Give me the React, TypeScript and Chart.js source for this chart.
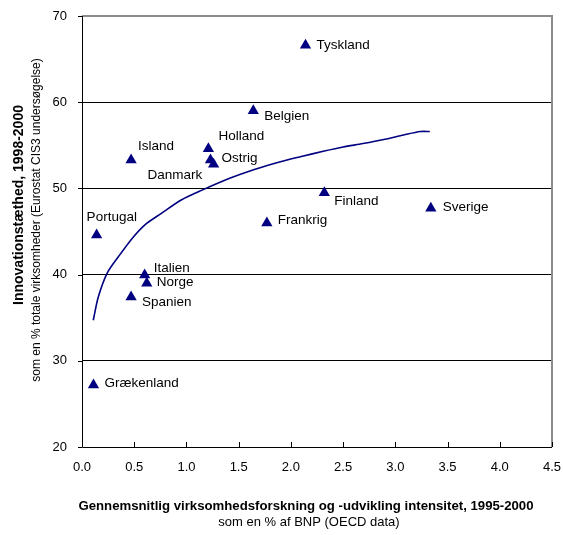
import React, { useEffect, useRef } from "react";
import { Chart, registerables } from "chart.js";

Chart.register(...registerables);

const countries = ["Tyskland", "Belgien", "Holland", "Ostrig", "Danmark", "Island", "Portugal", "Italien", "Norge", "Spanien", "Grækenland", "Frankrig", "Finland", "Sverige"];
const rdIntensity = [2.14, 1.64, 1.21, 1.23, 1.26, 0.47, 0.14, 0.6, 0.62, 0.47, 0.11, 1.77, 2.32, 3.34];
const innovation = [66.6, 59.0, 54.6, 53.3, 52.8, 53.3, 44.6, 39.95, 39.0, 37.4, 27.2, 46.0, 49.5, 47.7];
// label offsets in px (dx, dy) relative to the marker
const labelDx = [11, 11, 10, 11, -66, 7, -10, 9, 10, 11, 11, 11, 10, 12];
const labelDy = [0, 5, -12, -2, 11, -14, -18, -7, -1, 5, -2, -3, 9, -1];

const trendX = [0.108, 0.156, 0.24, 0.35, 0.48, 0.6, 0.76, 0.95, 1.15, 1.42, 1.65, 1.9, 2.1, 2.31, 2.5, 2.69, 2.9, 3.08, 3.24, 3.33];
const trendY = [34.7, 37.4, 40.15, 42.1, 44.2, 45.75, 47.1, 48.65, 49.8, 51.2, 52.2, 53.1, 53.7, 54.3, 54.8, 55.2, 55.7, 56.2, 56.6, 56.6];

const yTicks = [20, 30, 40, 50, 60, 70];
const xTicks = [0, 0.5, 1, 1.5, 2, 2.5, 3, 3.5, 4, 4.5];

const yTitle = "Innovationstæthed, 1998-2000";
const ySub = "som en % totale virksomheder (Eurostat CIS3 undersøgelse)";
const xTitle = "Gennemsnitlig virksomhedsforskning og -udvikling intensitet, 1995-2000";
const xSub = "som en % af BNP (OECD data)";

const FONT = "Arial, 'Liberation Sans', sans-serif";
const NAVY = "#000080";

const decorPlugin = {
  id: "decor",
  afterDatasetsDraw(chart: any) {
    const { ctx, chartArea: a, scales } = chart;
    const xs = scales.x;
    const ys = scales.y;
    ctx.save();
    // gray frame top/right
    ctx.strokeStyle = "#8c8c8c";
    ctx.lineWidth = 2;
    ctx.beginPath();
    ctx.moveTo(a.left, a.top);
    ctx.lineTo(a.right, a.top);
    ctx.lineTo(a.right, a.bottom);
    ctx.stroke();
    // black axes
    ctx.strokeStyle = "#000";
    ctx.lineWidth = 1;
    ctx.beginPath();
    ctx.moveTo(a.left + 0.5, a.top);
    ctx.lineTo(a.left + 0.5, a.bottom + 0.5);
    ctx.lineTo(a.right, a.bottom + 0.5);
    ctx.stroke();
    // x ticks (inward)
    ctx.beginPath();
    xTicks.forEach((v) => {
      const px = Math.round(xs.getPixelForValue(v)) + 0.5;
      ctx.moveTo(px, a.bottom);
      ctx.lineTo(px, a.bottom - 5);
    });
    // y ticks (outward)
    yTicks.forEach((v) => {
      const py = Math.round(ys.getPixelForValue(v)) + 0.5;
      ctx.moveTo(a.left, py);
      ctx.lineTo(a.left - 4, py);
    });
    ctx.stroke();
    // point labels
    ctx.fillStyle = "#000";
    ctx.font = `13.5px ${FONT}`;
    ctx.textAlign = "left";
    ctx.textBaseline = "middle";
    countries.forEach((c, i) => {
      const px = xs.getPixelForValue(rdIntensity[i]);
      const py = ys.getPixelForValue(innovation[i]);
      ctx.fillText(c, px + labelDx[i], py + labelDy[i]);
    });
    // axis titles
    ctx.textAlign = "center";
    ctx.font = `bold 13.2px ${FONT}`;
    ctx.fillText(xTitle, 306, 506);
    ctx.font = `13px ${FONT}`;
    ctx.fillText(xSub, 309, 522);
    ctx.save();
    ctx.translate(19, 205);
    ctx.rotate(-Math.PI / 2);
    ctx.font = `bold 14px ${FONT}`;
    ctx.fillText(yTitle, 0, 0);
    ctx.restore();
    ctx.save();
    ctx.translate(37, 220);
    ctx.rotate(-Math.PI / 2);
    ctx.font = `12px ${FONT}`;
    ctx.fillText(ySub, 0, 0);
    ctx.restore();
    ctx.restore();
  },
};

export default function App() {
  const ref = useRef<HTMLCanvasElement>(null);
  useEffect(() => {
    const canvas = ref.current;
    if (!canvas) return;
    const chart = new Chart(canvas, {
      type: "scatter",
      data: {
        datasets: [
          {
            type: "line",
            data: trendX.map((x, i) => ({ x, y: trendY[i] })),
            borderColor: NAVY,
            borderWidth: 1.6,
            pointRadius: 0,
            fill: false,
            tension: 0.3,
          } as any,
          {
            data: rdIntensity.map((x, i) => ({ x, y: innovation[i] })),
            pointStyle: "triangle",
            pointRadius: 6.5,
            backgroundColor: NAVY,
            borderColor: NAVY,
            borderWidth: 0,
          },
        ],
      },
      options: {
        animation: false,
        responsive: false,
        maintainAspectRatio: false,
        layout: { padding: { top: 16, right: 11, left: 0, bottom: 0 } },
        plugins: { legend: { display: false }, tooltip: { enabled: false } },
        scales: {
          x: {
            type: "linear",
            min: 0,
            max: 4.5,
            afterFit: (s: any) => {
              s.height = 88;
              s.paddingLeft = 0;
              s.paddingRight = 0;
            },
            afterBuildTicks: (s: any) => {
              s.ticks = xTicks.map((v) => ({ value: v }));
            },
            grid: { display: false, drawTicks: false },
            border: { display: false },
            ticks: {
              padding: 13,
              color: "#000",
              font: { family: FONT, size: 13 },
              callback: (v: any) => Number(v).toFixed(1),
              maxRotation: 0,
              autoSkip: false,
            },
          },
          y: {
            type: "linear",
            min: 20,
            max: 70,
            afterFit: (s: any) => {
              s.width = 82;
              s.paddingTop = 0;
              s.paddingBottom = 0;
            },
            afterBuildTicks: (s: any) => {
              s.ticks = yTicks.map((v) => ({ value: v }));
            },
            grid: {
              drawTicks: false,
              color: (c: any) => (c.tick && c.tick.value > 20 && c.tick.value < 70 ? "#000" : "rgba(0,0,0,0)"),
              lineWidth: 1,
            },
            border: { display: false },
            ticks: {
              padding: 15,
              color: "#000",
              font: { family: FONT, size: 13 },
              autoSkip: false,
            },
          },
        },
      },
      plugins: [decorPlugin],
    } as any);
    return () => chart.destroy();
  }, []);
  return (
    <div style={{ position: "fixed", left: 0, top: 0, width: 563, height: 535, background: "#fff" }}>
      <canvas ref={ref} width={563} height={535} style={{ width: 563, height: 535 }} />
    </div>
  );
}
